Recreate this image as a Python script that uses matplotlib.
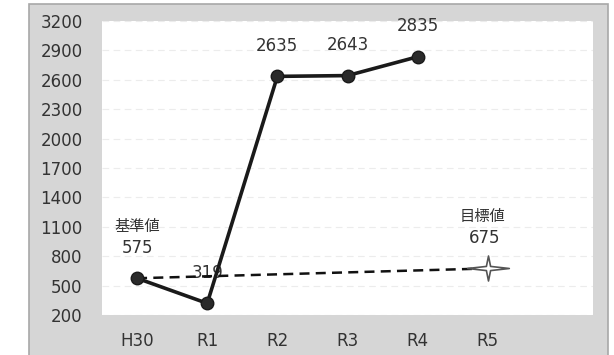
import matplotlib.pyplot as plt
from matplotlib.patches import Rectangle
from matplotlib.path import Path

plt.rcParams['font.family'] = ['DejaVu Sans', 'Noto Sans CJK JP']

categories = ['H30', 'R1', 'R2', 'R3', 'R4', 'R5', '']
actual = [575, 319, 2635, 2643, 2835]
target_x = ['H30', 'R5']
target = [575, 675]
yticks = list(range(200, 3201, 300))


def star_marker():
    # thin 4-point star, wider than tall
    w, h, r = 1.0, 0.6, 0.1
    verts = [(w, 0), (r, r), (0, h), (-r, r), (-w, 0), (-r, -r), (0, -h),
             (r, -r), (w, 0)]
    codes = [Path.MOVETO] + [Path.LINETO] * 7 + [Path.CLOSEPOLY]
    return Path(verts, codes)


def main():
    fig = plt.figure(figsize=(6.14, 3.55), dpi=100)
    fig.patch.set_facecolor('white')
    # gray outer panel
    fig.add_artist(Rectangle((29 / 614, -0.05), 579 / 614, 1.04,
                             transform=fig.transFigure, facecolor='#d6d6d6',
                             edgecolor='#a8a8a8', linewidth=1.2, zorder=0))
    ax = fig.add_axes([102 / 614, 40 / 355, 491 / 614, 294 / 355])
    ax.set_facecolor('white')
    ax.set_zorder(1)

    xpos = {c: i for i, c in enumerate(categories)}
    ax.plot([xpos[c] for c in target_x], target, linestyle=(0, (4, 2.5)),
            color='#111111', linewidth=1.8, zorder=3)
    ax.plot(xpos['R5'], target[1], marker=star_marker(), markersize=30,
            markerfacecolor='white', markeredgecolor='#555555',
            markeredgewidth=1.2, zorder=4)
    ax.plot(range(len(actual)), actual, color='#1a1a1a', linewidth=2.6,
            marker='o', markersize=9, markerfacecolor='#2a2a2a',
            markeredgecolor='#1a1a1a', zorder=5)

    txt = dict(textcoords='offset points', ha='center', va='center',
               fontsize=12, color='#333333')
    for i, v in enumerate(actual):
        ax.annotate(str(v), (i, v), xytext=(0, 22), zorder=2, **txt)
    ax.annotate('基準値', (0, actual[0]), xytext=(0, 37.5),
                **{**txt, 'fontsize': 11})
    ax.annotate(str(target[1]), (xpos['R5'], target[1]), xytext=(-2, 22), **txt)
    ax.annotate('目標値', (xpos['R5'], target[1]), xytext=(-4, 37.5),
                **{**txt, 'fontsize': 11})

    ax.set_xlim(-0.5, len(categories) - 0.5)
    ax.set_ylim(200, 3200)
    ax.set_yticks(yticks)
    ax.set_xticks(range(len(categories)))
    ax.set_xticklabels(categories)
    ax.tick_params(axis='both', length=0, labelsize=12, colors='#333333')
    ax.tick_params(axis='y', pad=14)
    ax.tick_params(axis='x', pad=12)
    ax.grid(axis='y', color='#ececec', linewidth=0.8, linestyle=(0, (6, 4)))
    ax.set_axisbelow(True)
    for s in ax.spines.values():
        s.set_visible(False)

    fig.savefig('out.png', dpi=100)


if __name__ == '__main__':
    main()
